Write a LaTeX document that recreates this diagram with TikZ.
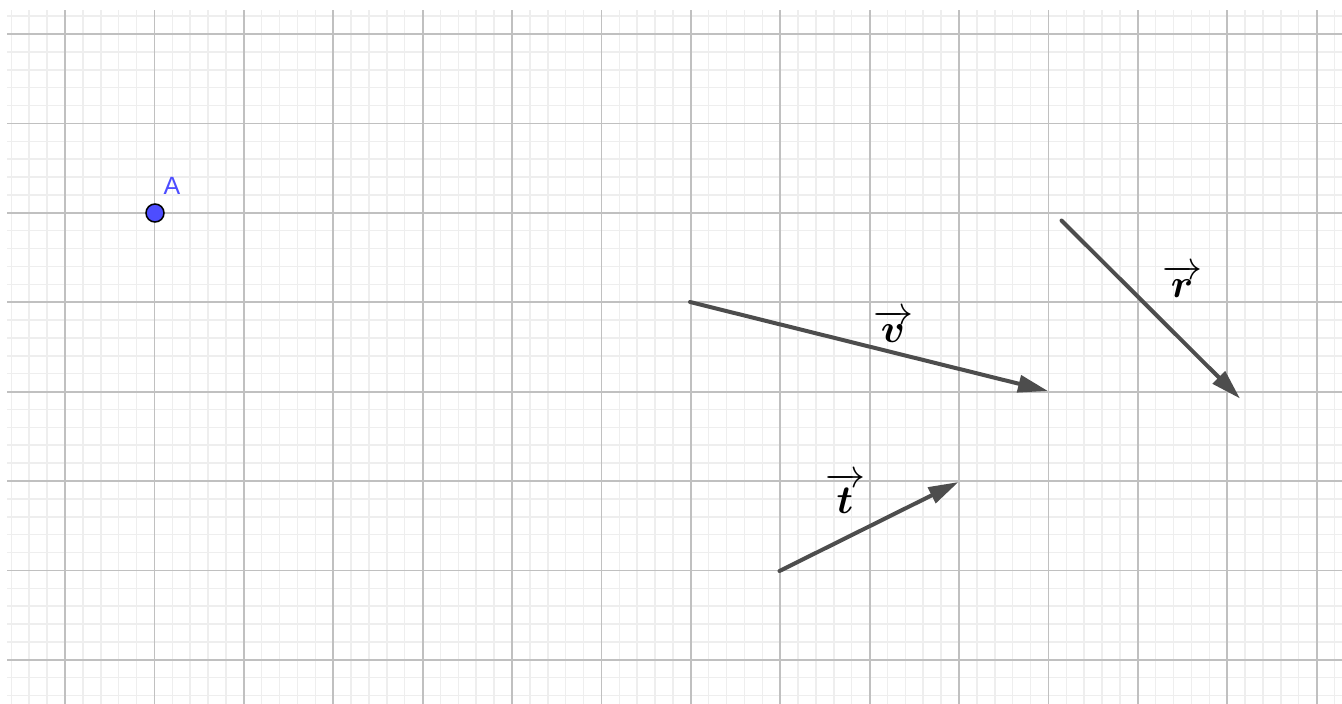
\RequirePackage{fix-cm}
\documentclass[tikz,border=0pt]{standalone}
\usepackage{amsmath}
\usepackage{fontspec}
\newfontfamily\labfont{Liberation Sans}
\usetikzlibrary{arrows.meta}
\definecolor{minorgrid}{HTML}{EEEEEE}
\definecolor{majorgrid}{HTML}{C0C0C0}
\definecolor{vecgray}{HTML}{4D4D4D}
\definecolor{ptblue}{HTML}{4D4DFF}
\tikzset{
  vec/.style={draw=vecgray, line width=4pt, line cap=round,
    -{Triangle[length=30pt,width=17pt]}},
  veclabel/.style={inner sep=0pt, font=\fontsize{40}{48}\selectfont},
  minorline/.style={draw=minorgrid, line width=1.5pt},
  majorline/.style={draw=majorgrid, line width=1.8pt},
}
\begin{document}
\begin{tikzpicture}[x=1pt,y=-1pt]
\useasboundingbox (0,0) rectangle (1342,704);
\fill[white] (0,0) rectangle (1342,704);
% minor grid
\foreach \k in {-3,...,71}{
  \draw[minorline] ({65+17.88*\k},10) -- ({65+17.88*\k},704);
}
\foreach \k in {-1,...,37}{
  \draw[minorline] (7,{34+17.88*\k}) -- (1342,{34+17.88*\k});
}
% major grid
\foreach \k in {0,...,14}{
  \draw[majorline] ({65+89.4*\k},10) -- ({65+89.4*\k},704);
}
\foreach \k in {0,...,7}{
  \draw[majorline] (7,{34+89.4*\k}) -- (1342,{34+89.4*\k});
}
% point A
\node[circle, fill=ptblue, draw=black, line width=1.5pt, minimum size=18pt, inner sep=0pt] (A) at (155,213) {};
\node[text=ptblue, font=\labfont\fontsize{25}{30}\selectfont, inner sep=0pt] (Alab) at (172,186) {A};
% vectors
\coordinate (v1) at (690,302);
\coordinate (v2) at (1048,391);
\coordinate (r1) at (1061.5,220.5);
\coordinate (r2) at (1240,398.5);
\coordinate (t1) at (779.5,571);
\coordinate (t2) at (958.5,482);
\draw[vec] (v1) -- (v2);
\draw[vec] (r1) -- (r2);
\draw[vec] (t1) -- (t2);
\node[veclabel] (vlab) at (893,326) {$\overrightarrow{\boldsymbol{v}}$};
\node[veclabel] (rlab) at (1182,281) {$\overrightarrow{\boldsymbol{r}}$};
\node[veclabel] (tlab) at (845,493) {$\overrightarrow{\boldsymbol{t}}$};
\end{tikzpicture}
\end{document}
